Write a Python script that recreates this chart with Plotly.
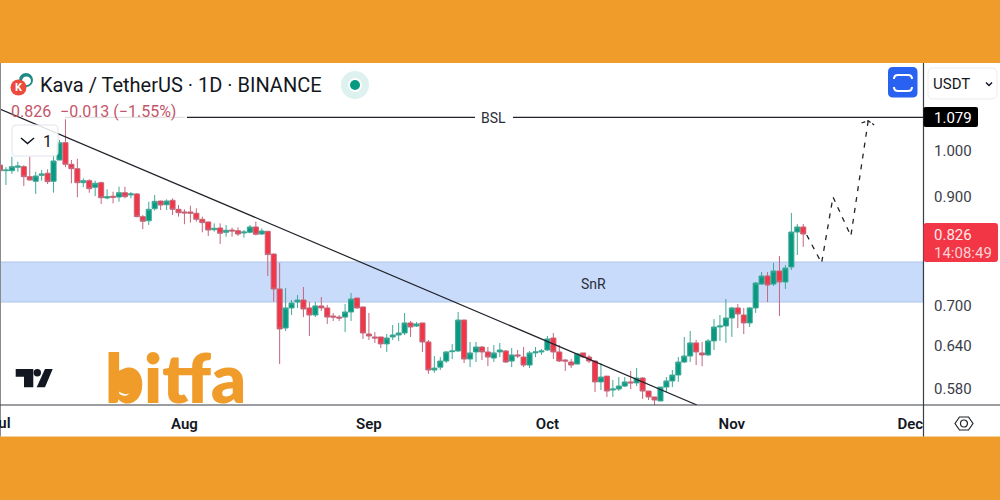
"""
Kava / TetherUS 日足チャート
"""

import pandas as pd
import plotly.graph_objects as go

# ローソク足 (2023-07-01 から)
opens = [
    .9668, .9547, .9547, .9621, .9634, .9420, .9323, .9448, .9492, .9323, .9778, 1.0165,
    .9685, .9590, .9294, .9336, .9199, .9294, .8980, .9016, .9000, .9088, .9043, .9063,
    .8613, .8535, .8768, .8920, .8846, .8934, .8756, .8704, .8704, .8679, .8562, .8511,
    .8365, .8397, .8317, .8359, .8346, .8304, .8317, .8416, .8285, .8335, .7921, .7325,
    .6712, .7020, .7114, .7146, .7020, .6910, .7052, .7020, .6894, .6878, .6878, .6957,
    .7178, .7036, .6622, .6578, .6578, .6477, .6578, .6607, .6637, .6788, .6742, .6788,
    .6505, .6109, .6148, .6233, .6365, .6375, .6833, .6261, .6361, .6432, .6361, .6275,
    .6361, .6375, .6233, .6319, .6289, .6177, .6347, .6361, .6389, .6563, .6361, .6247,
    .6219, .6191, .6347, .6289, .6233, .5948, .6026, .5841, .5854, .5893, .5948, .5935,
    .6000, .5828, .5751, .5699, .5880, .5961, .6041, .6219, .6303, .6491, .6347, .6319,
    .6520, .6727, .6742, .6863, .7020, .6910, .6788, .7020, .7406, .7541, .7406, .7626,
    .7440, .7694, .8322, .8416,
]
highs = [
    .9690, .9621, .9851, .9741, .9668, .9851, .9526, .9562, .9577, .9889, 1.0227, 1.0712,
    .9778, .9807, .9386, .9365, .9336, .9316, .9157, .9108, .9211, .9211, .9103, .9077,
    .8644, .8906, .9043, .8926, .8954, .8973, .8840, .8756, .8826, .8775, .8613, .8517,
    .8485, .8485, .8454, .8402, .8410, .8359, .8454, .8517, .8391, .8340, .7930, .7765,
    .7341, .7146, .7227, .7357, .7114, .7114, .7194, .7067, .6942, .6910, .7082, .7259,
    .7178, .7036, .6942, .6652, .6578, .6622, .6757, .6788, .6942, .6818, .6803, .6788,
    .6534, .6303, .6289, .6375, .6475, .6957, .6833, .6505, .6505, .6446, .6432, .6461,
    .6491, .6389, .6417, .6389, .6432, .6375, .6432, .6403, .6593, .6637, .6461, .6261,
    .6261, .6347, .6347, .6319, .6247, .6205, .6026, .5974, .6013, .6013, .6096, .6135,
    .6013, .5828, .5751, .5880, .6013, .6109, .6289, .6578, .6667, .6534, .6505, .6549,
    .6848, .6910, .7162, .7036, .7082, .7020, .7036, .7440, .7609, .7609, .7765, .7885,
    .7729, .8685, .8473, .8473,
]
lows = [
    .9455, .9245, .9478, .9526, .9224, .9336, .9063, .9336, .9266, .9088, .9778, .9621,
    .9281, .8995, .9199, .9088, .9020, .8861, .8954, .8873, .8906, .8973, .8973, .8601,
    .8375, .8454, .8729, .8742, .8742, .8644, .8613, .8468, .8498, .8517, .8317, .8248,
    .8328, .8102, .8235, .8235, .8248, .8217, .8298, .8260, .8267, .7541, .7119, .6191,
    .6667, .6910, .7020, .6878, .6593, .6878, .6972, .6773, .6818, .6818, .6652, .6818,
    .7004, .6549, .6534, .6491, .6417, .6361, .6534, .6520, .6607, .6578, .6727, .6361,
    .6057, .6070, .6109, .6205, .6261, .6361, .6205, .6148, .6219, .6247, .6162, .6219,
    .6289, .6205, .6148, .6275, .6148, .6135, .6289, .6319, .6375, .6261, .6219, .6096,
    .6135, .6191, .6275, .6205, .5815, .5841, .5751, .5751, .5828, .5880, .5854, .5893,
    .5725, .5712, .5648, .5699, .5815, .5880, .5948, .6205, .6219, .6177, .6162, .6303,
    .6389, .6520, .6491, .6578, .6712, .6622, .6727, .6942, .7390, .7114, .7373, .6894,
    .7325, .7643, .7905, .8049,
]
closes = [
    .9547, .9562, .9634, .9648, .9420, .9350, .9434, .9478, .9316, .9756, 1.0165, .9685,
    .9590, .9294, .9336, .9170, .9281, .8986, .9007, .8995, .9088, .9007, .9063, .8613,
    .8524, .8756, .8914, .8840, .8920, .8756, .8690, .8685, .8679, .8562, .8498, .8359,
    .8391, .8298, .8354, .8341, .8285, .8322, .8416, .8279, .8341, .7912, .7325, .6697,
    .7020, .7098, .7146, .7004, .6910, .7052, .7020, .6878, .6878, .6863, .6957, .7162,
    .7020, .6637, .6593, .6563, .6477, .6563, .6607, .6637, .6788, .6727, .6773, .6505,
    .6109, .6135, .6233, .6361, .6375, .6833, .6261, .6347, .6432, .6361, .6289, .6347,
    .6389, .6219, .6319, .6305, .6177, .6347, .6361, .6375, .6549, .6361, .6233, .6233,
    .6177, .6333, .6289, .6233, .5948, .6013, .5828, .5854, .5893, .5948, .5935, .6000,
    .5828, .5751, .5712, .5880, .5961, .6041, .6219, .6303, .6491, .6361, .6319, .6520,
    .6727, .6742, .6863, .7020, .6926, .6788, .7020, .7423, .7541, .7390, .7626, .7440,
    .7677, .8322, .8416, .8285,
]
dates = pd.date_range("2023-07-01", periods=len(opens), freq="D")


# 読み取り値を価格目盛りの実測に合わせて補正
def calibrate(values):
    return [v ** 1.02268 * 1.00115 for v in values]


# 描画ライン
trend_dates = ["2023-07-01", "2023-10-26 03:00"]
trend_prices = [1.0997, 0.5582]
bsl_dates = ["2023-08-01 10:00", "2023-09-18 20:00", None, "2023-09-25 05:00", "2023-12-04"]
bsl_prices = [1.079, 1.079, None, 1.079, 1.079]
bsl_faded_dates = ["2023-07-11 22:00", "2023-08-01 02:00"]
bsl_faded_prices = [1.079, 1.079]
path_dates = [
    "2023-11-13 14:00", "2023-11-16 02:00", "2023-11-18", "2023-11-21", "2023-11-23 22:00",
]
path_prices = [0.8240, 0.7728, 0.8990, 0.8221, 1.0706]
arrow_dates = ["2023-11-22 19:00", "2023-11-23 22:00", "2023-11-24 22:00"]
arrow_prices = [1.0650, 1.0706, 1.0602]
snr_top = 0.7746
snr_bottom = 0.7067

y_ticks = [0.58, 0.64, 0.70, 0.90, 1.00]
x_ticks = ["2023-08-01", "2023-09-01", "2023-10-01", "2023-11-01", "2023-12-01"]
x_labels = ["Aug", "Sep", "Oct", "Nov", "Dec"]

GREEN = "#089981"
RED = "#F23645"
ORANGE = "#EF9C2A"
INK = "#131722"
PLOT_W = 923
PLOT_H = 342
PLOT_BOTTOM = 405


def px(x):
    return x / PLOT_W


def py(y):
    return (PLOT_BOTTOM - y) / PLOT_H


def svg_path(points, close=True):
    text = "M" + " L".join(f"{px(x):.5f},{py(y):.5f}" for x, y in points)
    return text + (" Z" if close else "")


def rounded(x0, y0, x1, y1, r):
    return (
        f"M{px(x0 + r):.5f},{py(y0):.5f} L{px(x1 - r):.5f},{py(y0):.5f} "
        f"Q{px(x1):.5f},{py(y0):.5f} {px(x1):.5f},{py(y0 + r):.5f} "
        f"L{px(x1):.5f},{py(y1 - r):.5f} Q{px(x1):.5f},{py(y1):.5f} {px(x1 - r):.5f},{py(y1):.5f} "
        f"L{px(x0 + r):.5f},{py(y1):.5f} Q{px(x0):.5f},{py(y1):.5f} {px(x0):.5f},{py(y1 - r):.5f} "
        f"L{px(x0):.5f},{py(y0 + r):.5f} Q{px(x0):.5f},{py(y0):.5f} {px(x0 + r):.5f},{py(y0):.5f} Z"
    )


def paper_shape(kind, x0, y0, x1, y1, fill, line=None, width=0, layer="above"):
    return dict(
        type=kind, xref="paper", yref="paper", x0=px(x0), x1=px(x1), y0=py(y0), y1=py(y1),
        fillcolor=fill, line=dict(color=line, width=width), layer=layer,
    )


def path_shape(path, fill=None, line=None, width=0):
    return dict(
        type="path", xref="paper", yref="paper", path=path, fillcolor=fill,
        line=dict(color=line, width=width), layer="above",
    )


def label(text, x, y, size, color=INK, anchor="left", weight=None, family="Roboto"):
    return dict(
        text=text, xref="paper", yref="paper", x=px(x), y=py(y), xanchor=anchor, yanchor="middle",
        showarrow=False, font=dict(family=family, size=size, color=color, weight=weight),
    )


fig = go.Figure()

fig.add_trace(
    go.Candlestick(
        x=dates,
        open=calibrate(opens),
        high=calibrate(highs),
        low=calibrate(lows),
        close=calibrate(closes),
        increasing=dict(line=dict(color="#3FA896", width=1), fillcolor=GREEN),
        decreasing=dict(line=dict(color="#C4667C", width=1), fillcolor=RED),
        showlegend=False,
    )
)

line_black = dict(color="#20232B", width=1.2)
fig.add_trace(go.Scatter(x=trend_dates, y=trend_prices, mode="lines", line=line_black, showlegend=False))
fig.add_trace(go.Scatter(x=bsl_dates, y=bsl_prices, mode="lines", line=line_black, showlegend=False))
fig.add_trace(
    go.Scatter(
        x=bsl_faded_dates, y=bsl_faded_prices, mode="lines",
        line=dict(color="#D9D9D9", width=1), showlegend=False,
    )
)
dash_line = dict(color="#20232B", width=1.3, dash="5px,6px")
fig.add_trace(go.Scatter(x=path_dates, y=path_prices, mode="lines", line=dash_line, showlegend=False))
fig.add_trace(go.Scatter(x=arrow_dates, y=arrow_prices, mode="lines", line=dict(color="#20232B", width=1.3, dash="4px,2px"), showlegend=False))

shapes = [
    # 白いパネルと SnR ゾーン
    paper_shape("rect", 0, 63, 1000, 436.5, "white", layer="below"),
    dict(
        type="rect", xref="paper", yref="y", x0=0, x1=1, y0=snr_bottom, y1=snr_top,
        fillcolor="#C9DBFA", line=dict(color="#AFC6EA", width=1), layer="below",
    ),
    # 枠線
    paper_shape("rect", 0, 63, 1, 436.5, "#8A8A8A"),
    dict(type="line", xref="paper", yref="paper", x0=px(0), x1=px(1000), y0=py(405), y1=py(405),
         line=dict(color="#3A3D45", width=1.2), layer="above"),
    dict(type="line", xref="paper", yref="paper", x0=px(923.5), x1=px(923.5), y0=py(63), y1=py(436.5),
         line=dict(color="#3A3D45", width=1.2), layer="above"),
    # ヘッダーのアイコン
    paper_shape("circle", 19, 73, 33, 87, "#1F8A85"),
    paper_shape("circle", 22, 76.5, 31, 85, "white"),
    paper_shape("circle", 10.5, 79.5, 26.5, 95.5, "#EC4A3C"),
    paper_shape("circle", 341, 71, 369, 99, "#DDF1EE"),
    paper_shape("circle", 348, 78, 362, 92, "white"),
    paper_shape("circle", 350, 80, 360, 90, GREEN),
    # 全画面ボタン
    path_shape(rounded(888, 67, 917.5, 97.5, 5), fill="#2962F0"),
    path_shape(
        f"M{px(894):.5f},{py(79):.5f} Q{px(894):.5f},{py(75):.5f} {px(898):.5f},{py(75):.5f} "
        f"L{px(908):.5f},{py(75):.5f} Q{px(912):.5f},{py(75):.5f} {px(912):.5f},{py(79):.5f}",
        line="white", width=2,
    ),
    path_shape(
        f"M{px(894):.5f},{py(87):.5f} Q{px(894):.5f},{py(91):.5f} {px(898):.5f},{py(91):.5f} "
        f"L{px(908):.5f},{py(91):.5f} Q{px(912):.5f},{py(91):.5f} {px(912):.5f},{py(87):.5f}",
        line="white", width=2,
    ),
    # 通貨セレクタ
    path_shape(rounded(928, 68, 997, 99, 5), fill="white", line="#ECECEC", width=1),
    path_shape(svg_path([(986, 82.5), (989, 85.5), (992, 82.5)], close=False), line=INK, width=1.5),
    # インターバルのボックス
    path_shape(rounded(12, 125, 58, 156, 4), fill="rgba(255,255,255,0.85)", line="#E0E3EB", width=1),
    path_shape(svg_path([(21, 138), (27.5, 143.5), (34, 138)], close=False), line=INK, width=1.6),
    # 価格タグ
    path_shape(rounded(923.5, 107, 978, 127, 2), fill="#000000"),
    path_shape(rounded(923.5, 223, 998, 262, 3), fill=RED),
    # TradingView ロゴ
    path_shape(
        svg_path([(15.7, 369), (33.3, 369), (33.3, 387.3), (24, 387.3), (24, 376.7), (15.7, 376.7)]),
        fill="#131722",
    ),
    paper_shape("circle", 33.6, 369, 41, 376.4, "#131722"),
    path_shape(svg_path([(45, 369), (52.7, 369), (45, 387.3), (36.7, 387.3)]), fill="#131722"),
    # 設定アイコン
    path_shape(
        svg_path([(955, 423.5), (959.5, 417), (968.5, 417), (973, 423.5), (968.5, 430), (959.5, 430)]),
        line="#20232B", width=1.2,
    ),
    paper_shape("circle", 960.5, 420, 967.5, 427, "white", line="#20232B", width=1.2),
    # bitfa の b の丸とスマイル
    paper_shape("circle", 110, 369, 142, 401, ORANGE),
    path_shape(
        f"M{px(116.5):.5f},{py(390.5):.5f} Q{px(126):.5f},{py(400):.5f} {px(136.5):.5f},{py(390):.5f}",
        line="white", width=1.8,
    ),
]

annotations = [
    label("K", 18.5, 87.8, 11, "white", "center", 700),
    label("Kava / TetherUS · 1D · BINANCE", 37.5, 85, 20),
    label("0.826", 9, 111.5, 16, "#C4566A"),
    label("−0.013 (−1.55%)", 58, 111.5, 16, "#C4566A"),
    label("1", 47, 141, 16, anchor="center"),
    label("USDT", 930.5, 84, 15),
    label("1.079", 932, 118, 15, "white"),
    label("0.826", 932, 235, 15, "#FFE9EB"),
    label("14:08:49", 932, 252.5, 15, "#FFD2D7"),
    label("BSL", 493.5, 117.5, 14, "#2A2E39", "center"),
    label("SnR", 593, 284, 14, "#2A2E39", "center"),
    label("Jul", 0, 423, 15, INK, "center", 600),
    label("bitfa", 175, 376, 68, ORANGE, "center", 800, "Lato"),
]

fig.update_layout(
    width=1000,
    height=500,
    margin=dict(l=0, r=77, t=63, b=95),
    paper_bgcolor=ORANGE,
    plot_bgcolor="white",
    boxgap=0.15,
    boxgroupgap=0,
    showlegend=False,
    shapes=shapes,
    annotations=annotations,
    xaxis=dict(
        type="date",
        range=["2023-07-01", "2023-12-03 03:00"],
        rangeslider=dict(visible=False),
        tickmode="array",
        tickvals=x_ticks,
        ticktext=x_labels,
        showgrid=False,
        zeroline=False,
        ticks="outside",
        ticklen=5,
        tickcolor="rgba(255,255,255,0)",
        tickangle=0,
        tickfont=dict(family="Roboto", size=15, color=INK, weight=600),
    ),
    yaxis=dict(
        type="log",
        side="right",
        range=[-0.25321, 0.08706],
        tickmode="array",
        tickvals=y_ticks,
        ticktext=[f"{v:.3f}" for v in y_ticks],
        showgrid=False,
        zeroline=False,
        ticks="outside",
        ticklen=7,
        tickcolor="rgba(255,255,255,0)",
        tickfont=dict(family="Roboto", size=15, color="#3A3E48"),
    ),
)

# ページ余白を消す
fig.write_html(
    "out.html",
    config={"displayModeBar": False},
    post_script="document.body.style.margin='0';",
)
